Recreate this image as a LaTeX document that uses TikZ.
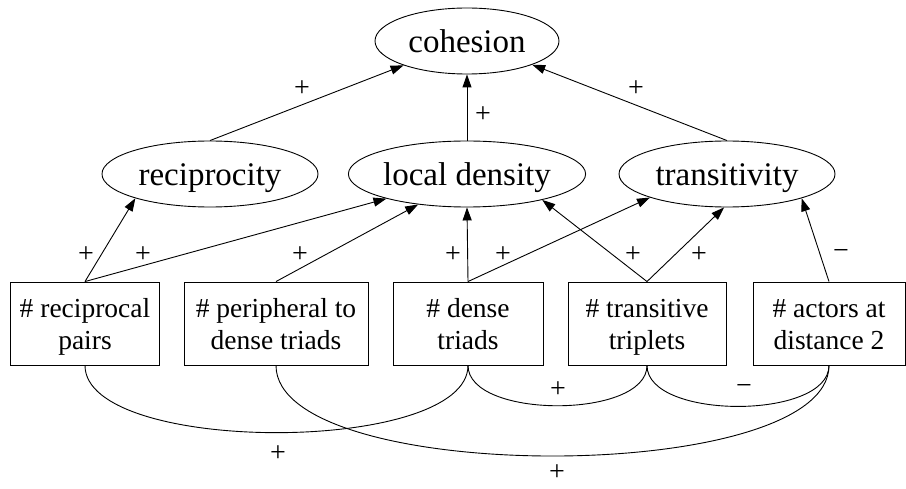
\documentclass[tikz,border=0pt]{standalone}
\usepackage{fontspec}
\setmainfont{Liberation Serif}
\usetikzlibrary{shapes.geometric,arrows.meta}
\begin{document}
\begin{tikzpicture}[>={Triangle[length=13pt,width=9pt]},x=1pt,y=-1pt,
        font=\fontsize{28}{32}\selectfont,line width=0.9pt,
        var/.style={ellipse,draw,inner sep=0pt,minimum height=66pt,minimum width=216pt,
            text height=23pt,text depth=0pt,font=\fontsize{33}{36}\selectfont},
        cnt/.style={draw,align=center,inner sep=0pt,minimum height=83pt,
            text height=52pt,text depth=1pt,font=\fontsize{27.5}{32}\selectfont},
        sgn/.style={inner sep=0pt}]
                \useasboundingbox (0,0) rectangle (906,489);
                \node[var,minimum width=184pt] (coh) at (467,41) {cohesion};
                \node[var] (rec) at (210,174) {reciprocity};
                \node[var] (loc) at (467,174) {local density};
                \node[var] (tra) at (727,174) {transitivity};
                \node[cnt,minimum width=149pt] (b1) at (85,323.5) {\# reciprocal\\pairs};
                \node[cnt,minimum width=184pt] (b2) at (276,323.5) {\# peripheral to\\dense triads};
                \node[cnt,minimum width=150pt] (b3) at (468,323.5) {\# dense\\triads};
                \node[cnt,minimum width=158pt] (b4) at (647,323.5) {\# transitive\\triplets};
                \node[cnt,minimum width=152pt] (b5) at (829,323.5) {\# actors at\\distance 2};
                \draw[->] (rec.north) -- (coh.201);
                \draw[->] (loc.north) -- (coh.south);
                \draw[->] (tra.north) -- (coh.-20);
                \draw[->] (b1.north) -- (rec.198);
                \draw[->] (b1.north) -- (loc.197);
                \draw[->] (b2.north) -- (loc.212);
                \draw[->] (b3.north) -- (loc.south);
                \draw[->] (b3.north) -- (tra.197);
                \draw[->] (b4.north) -- (loc.-19);
                \draw[->] (b4.north) -- (tra.265);
                \draw[->] (b5.north) -- (tra.-18);
                \draw (b1.south) to[out=-90,in=-90,looseness=0.6] (b3.south);
                \draw (b3.south) to[out=-90,in=-90,looseness=0.77] (b4.south);
                \draw (b4.south) to[out=-90,in=-90,looseness=0.77] (b5.south);
                \draw (b2.south) to[out=-90,in=-90,looseness=0.56] (b5.south);
                \node[sgn] (s1) at (302,89) {+};
                \node[sgn] (s2) at (483,115) {+};
                \node[sgn] (s3) at (636,89) {+};
                \node[sgn] (s4) at (86,255) {+};
                \node[sgn] (s5) at (143,255) {+};
                \node[sgn] (s6) at (300,255) {+};
                \node[sgn] (s7) at (453,255) {+};
                \node[sgn] (s8) at (503,255) {+};
                \node[sgn] (s9) at (633,255) {+};
                \node[sgn] (s10) at (699,255) {+};
                \node[sgn] (s11) at (841,255) {−};
                \node[sgn] (s12) at (278,454) {+};
                \node[sgn] (s13) at (558,390) {+};
                \node[sgn] (s14) at (744,390) {−};
                \node[sgn] (s15) at (557,473) {+};
            \end{tikzpicture}
\end{document}
